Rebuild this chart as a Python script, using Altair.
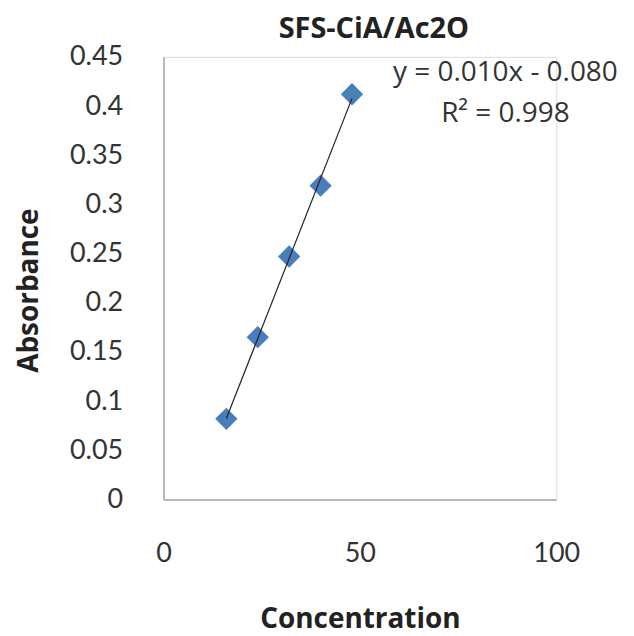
import altair as alt
import pandas as pd

concentration = [16, 24, 32, 40, 48]
absorbance = [0.082, 0.165, 0.247, 0.319, 0.412]
equation_lines = ["y = 0.010x - 0.080", "R² = 0.998"]

df = pd.DataFrame({"Concentration": concentration, "Absorbance": absorbance})
FONT = "Lato"
TFONT = "Open Sans"
BLUE = "#4a7ebb"

x_enc = alt.X(
    "Concentration:Q",
    scale=alt.Scale(domain=[0, 100], nice=False),
    axis=alt.Axis(
        values=[0, 50, 100], title="Concentration", grid=False, ticks=False,
        domainColor="#a6a6a6", domainWidth=1.5, labelFont=FONT, labelFontSize=27,
        labelColor="#333333", labelPadding=41, titleFont=TFONT, titleFontSize=28,
        titleFontWeight="bold", titleColor="#222222", titleX=197, titleY=120,
        titleBaseline="middle", labelFlush=False,
    ),
)
y_enc = alt.Y(
    "Absorbance:Q",
    scale=alt.Scale(domain=[0, 0.45], nice=False),
    axis=alt.Axis(
        values=[0, 0.05, 0.1, 0.15, 0.2, 0.25, 0.3, 0.35, 0.4, 0.45], format=".2~f",
        title="Absorbance", grid=False, ticks=False, domainColor="#a6a6a6",
        domainWidth=1.5, labelFont=FONT, labelFontSize=27, labelColor="#333333",
        labelPadding=41, labelFlush=False, titleFont=TFONT, titleFontSize=28,
        titleFontWeight="bold", titleColor="#222222", titleX=-134, titleY=234,
        titleBaseline="middle", titleAngle=-90,
    ),
)

points = alt.Chart(df).mark_point(
    shape="diamond", filled=True, size=500, color=BLUE, opacity=1
).encode(x=x_enc, y=y_enc)

trend = alt.Chart(df).transform_regression(
    "Concentration", "Absorbance"
).mark_line(color="#222222", strokeWidth=1.2).encode(x=x_enc, y=y_enc)

eq_df = pd.DataFrame({"text": equation_lines, "row": [0, 1]})
eq_layers = []
for i, ypix in enumerate([16, 57]):
    eq_layers.append(
        alt.Chart(eq_df).transform_filter(alt.datum.row == i).mark_text(
            font=TFONT, fontSize=28, color="#333333", align="center", baseline="middle"
        ).encode(text="text:N", x=alt.value(343), y=alt.value(ypix))
    )

chart = alt.layer(points, trend, *eq_layers).properties(
    width=394,
    height=444,
    autosize=alt.AutoSizeParams(type="none"),
    padding={"left": 156, "top": 48, "right": 70, "bottom": 140},
    title=alt.TitleParams(
        "SFS-CiA/Ac2O", font=TFONT, fontSize=29, fontWeight="bold",
        color="#222222", anchor="middle", offset=2, dx=14, dy=3,
    ),
).configure_view(strokeWidth=0).configure(background="white")

chart.save("out.html", embed_options={"renderer": "svg", "actions": False})
